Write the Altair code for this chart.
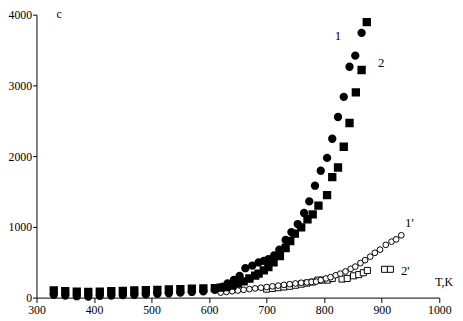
import altair as alt
import pandas as pd

# Series 1 (filled circles)
t1 = [330, 350, 370, 390, 410, 430, 450, 470, 490, 510, 530, 550, 570, 590, 610, 622, 632, 643, 653, 663,
      675, 686, 695, 703, 713, 722, 733, 743, 754, 765, 774, 784, 794, 805, 814, 824, 834, 844, 854, 865]
v1 = [40, 30, 20, 15, 25, 30, 35, 40, 45, 55, 60, 70, 80, 90, 110, 150, 200, 250, 308, 416,
      452, 497, 519, 542, 597, 678, 814, 926, 1040, 1197, 1360, 1582, 1794, 1975, 2246, 2553, 2838, 3264, 3421, 3742]

# Series 2 (filled squares)
t2 = [330, 350, 370, 390, 410, 430, 450, 470, 490, 510, 530, 550, 570, 590, 610, 620, 630, 640, 650, 660,
      670, 680, 686, 695, 703, 712, 723, 733, 741, 749, 760, 771, 780, 790, 805, 814, 824, 834, 844, 855, 865, 874]
v2 = [100, 90, 85, 80, 85, 90, 95, 100, 105, 110, 115, 120, 125, 130, 135, 140, 150, 170, 200, 230,
      270, 310, 339, 384, 430, 497, 587, 701, 800, 904, 994, 1108, 1176, 1300, 1450, 1704, 1839, 2133, 2468, 2902, 3218, 3895]

# Series 1' (open circles)
t1p = [620, 630, 640, 650, 660, 670, 680, 690, 700, 710, 720, 730, 740, 750, 760, 770, 778, 786, 794, 803,
       811, 820, 828, 837, 846, 854, 863, 871, 880, 888, 897, 907, 917, 925, 934]
v1p = [70, 80, 90, 100, 110, 120, 130, 140, 150, 160, 170, 180, 190, 200, 210, 215, 222, 226, 248, 271,
       289, 316, 339, 370, 407, 438, 488, 529, 579, 633, 678, 746, 791, 823, 881]

# Series 2' (open squares)
t2p = [700, 710, 720, 730, 740, 750, 760, 770, 780, 789, 797, 806, 814, 831, 840, 851, 860, 868, 875, 905, 915]
v2p = [120, 130, 140, 150, 160, 175, 190, 205, 220, 248, 248, 248, 271, 262, 271, 308, 325, 352, 384, 400, 400]

# Curve labels
lab_text = ["1", "2", "1'", "2'"]
lab_t = [824, 899, 948, 941]
lab_v = [3700, 3310, 1060, 380]

x_ticks = [300, 400, 500, 600, 700, 800, 900, 1000]
y_ticks = [0, 1000, 2000, 3000, 4000]

FONT = "Liberation Serif"

def frame(t, v):
    return pd.DataFrame({"T": t, "v": v})

xs = alt.Scale(domain=[300, 1000], nice=False, zero=False, padding=0)
ys = alt.Scale(domain=[0, 4000], nice=False, padding=0)

x_enc = alt.X("T:Q", scale=xs, axis=alt.Axis(values=x_ticks, format="d", title=None, grid=False, tickSize=5,
                                              labelFont=FONT, labelFontSize=12, labelColor="black",
                                              labelFlush=False, labelOverlap=False,
                                              domainColor="black", tickColor="black", labelPadding=2))
y_enc = alt.Y("v:Q", scale=ys, axis=alt.Axis(values=y_ticks, format="d", title=None, grid=False, tickSize=4,
                                              labelFont=FONT, labelFontSize=12, labelColor="black",
                                              labelFlush=False, labelOverlap=False,
                                              domainColor="black", tickColor="black", labelPadding=1))

c1 = alt.Chart(frame(t1, v1)).mark_point(shape="circle", filled=True, fill="black", stroke="black", size=42, opacity=1).encode(x=x_enc, y=y_enc)
c2 = alt.Chart(frame(t2, v2)).mark_point(shape="square", filled=True, fill="black", stroke="black", size=42, opacity=1).encode(x=x_enc, y=y_enc)
c1p = alt.Chart(frame(t1p, v1p)).mark_point(shape="circle", filled=False, stroke="black", fill="white", size=34, strokeWidth=1, opacity=1).encode(x=x_enc, y=y_enc)
c2p = alt.Chart(frame(t2p, v2p)).mark_point(shape="square", filled=False, stroke="black", fill="white", size=38, strokeWidth=1, opacity=1).encode(x=x_enc, y=y_enc)

labels = alt.Chart(pd.DataFrame({"T": lab_t, "v": lab_v, "t": lab_text})).mark_text(
    font=FONT, fontSize=13, fill="black", clip=False).encode(x=x_enc, y=y_enc, text="t:N")

tk = alt.Chart(pd.DataFrame({"t": ["T,K"]})).mark_text(font=FONT, fontSize=12, fill="black", align="right").encode(
    x=alt.value(424), y=alt.value(272), text="t:N")
cl = alt.Chart(pd.DataFrame({"t": ["c"]})).mark_text(font=FONT, fontSize=12, fill="black").encode(
    x=alt.value(23), y=alt.value(-1), text="t:N")

chart = alt.layer(c2p, c1p, c2, c1, labels, tk, cl).properties(
    width=410, height=288,
    autosize=alt.AutoSizeParams(type="none"),
    padding={"left": 29, "top": 4, "right": 16, "bottom": 20},
).configure_view(stroke=None)

chart.save("out.html", embed_options={"renderer": "svg", "actions": False})
